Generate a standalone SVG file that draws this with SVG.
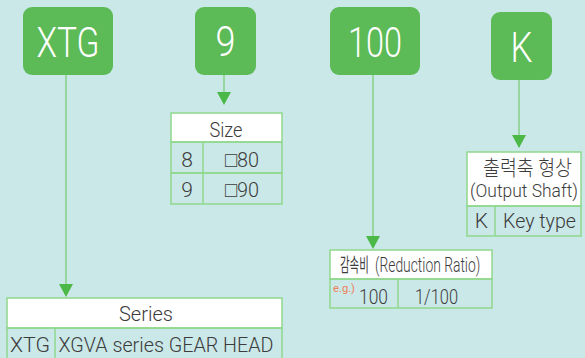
<svg xmlns="http://www.w3.org/2000/svg" width="585" height="358" viewBox="0 0 585 358">
<style>
.bg{fill:#cbe8e8}
.box{fill:#5cba57}
.big{fill:#ffffff;font-family:Roboto,"Liberation Sans",Arial,sans-serif;font-weight:300;font-size:42px;text-anchor:middle}
.conn{stroke:#86d086;stroke-width:1.5;fill:none}
.hd{fill:#ffffff;stroke:#90d88c;stroke-width:1.5}
.cell{fill:none;stroke:#90d88c;stroke-width:1.5}
.t{fill:#3c3c3c;font-family:Roboto,"Liberation Sans","Noto Sans CJK KR",sans-serif;font-weight:300;font-size:21px;text-anchor:middle}
.kr{fill:#3c3c3c;font-family:"Noto Sans CJK KR",sans-serif;font-size:19px}
.eg{fill:#f0805a;font-family:Roboto,"Liberation Sans",sans-serif;font-size:11px}
</style>
<rect class="bg" x="0" y="0" width="585" height="358"/>
<g id="connectors">
<line class="conn" x1="66" y1="75" x2="66" y2="284"/>
<path d="M59,284 L73,284 L66,297 Z" fill="#4cb848"/>
<line class="conn" x1="224" y1="75" x2="224" y2="92"/>
<path d="M217,92 L231,92 L224,105 Z" fill="#4cb848"/>
<line class="conn" x1="373" y1="75" x2="373" y2="236"/>
<path d="M366,236 L380,236 L373,249 Z" fill="#4cb848"/>
<line class="conn" x1="519" y1="80" x2="519" y2="135"/>
<path d="M512,135 L526,135 L519,148 Z" fill="#4cb848"/>
</g>
<g id="node-xtg">
<rect class="box" x="23" y="7" width="90" height="68" rx="9"/>
<text class="big" x="68" y="57" textLength="63" lengthAdjust="spacingAndGlyphs">XTG</text>
</g>
<g id="node-9">
<rect class="box" x="195" y="7" width="61" height="68" rx="9"/>
<text class="big" x="225.5" y="56" textLength="20" lengthAdjust="spacingAndGlyphs">9</text>
</g>
<g id="node-100">
<rect class="box" x="330" y="7" width="90" height="68" rx="9"/>
<text class="big" x="375" y="57" textLength="54" lengthAdjust="spacingAndGlyphs">100</text>
</g>
<g id="node-k">
<rect class="box" x="491" y="12" width="61" height="68" rx="9"/>
<text class="big" x="521.5" y="62" textLength="22" lengthAdjust="spacingAndGlyphs">K</text>
</g>
<g id="table-size">
<rect class="hd" x="171" y="113" width="111" height="29"/>
<rect class="cell" x="171" y="142" width="111" height="31"/>
<rect class="cell" x="171" y="173" width="111" height="31"/>
<line class="cell" x1="203" y1="142" x2="203" y2="204"/>
<text class="t" x="226" y="137" textLength="33" lengthAdjust="spacingAndGlyphs">Size</text>
<text class="t" x="187" y="167">8</text>
<text class="t" x="242" y="167" textLength="34" lengthAdjust="spacingAndGlyphs">□80</text>
<text class="t" x="187" y="197">9</text>
<text class="t" x="242" y="197" textLength="34" lengthAdjust="spacingAndGlyphs">□90</text>
</g>
<g id="table-series">
<rect class="hd" x="7" y="298" width="275" height="30"/>
<rect class="cell" x="7" y="328" width="275" height="34"/>
<line class="cell" x1="55" y1="328" x2="55" y2="362"/>
<text class="t" x="146" y="321" textLength="54" lengthAdjust="spacingAndGlyphs">Series</text>
<text class="t" x="30" y="352" textLength="40" lengthAdjust="spacingAndGlyphs">XTG</text>
<text class="t" x="166" y="352" textLength="215" lengthAdjust="spacingAndGlyphs">XGVA series GEAR HEAD</text>
</g>
<g id="table-ratio">
<rect class="hd" x="330" y="250" width="162" height="29"/>
<rect class="cell" x="330" y="279" width="162" height="29"/>
<line class="cell" x1="398" y1="279" x2="398" y2="308"/>
<text class="kr" transform="translate(340,272) scale(0.55,1)">감속비</text>
<text class="t" transform="translate(375,272) scale(0.66,1)" style="text-anchor:start">(Reduction Ratio)</text>
<text class="eg" x="333" y="292" textLength="22" lengthAdjust="spacingAndGlyphs">e.g.)</text>
<text class="t" x="373.5" y="304" textLength="29" lengthAdjust="spacingAndGlyphs">100</text>
<text class="t" x="436.5" y="304" textLength="43" lengthAdjust="spacingAndGlyphs">1/100</text>
</g>
<g id="table-shaft">
<rect class="hd" x="467" y="152" width="114" height="54"/>
<rect class="cell" x="467" y="206" width="114" height="30"/>
<line class="cell" x1="495" y1="206" x2="495" y2="236"/>
<text class="t" x="527.5" y="175" textLength="89" lengthAdjust="spacingAndGlyphs">출력축 형상</text>
<text class="t" x="524" y="197" style="font-size:18px" textLength="108" lengthAdjust="spacingAndGlyphs">(Output Shaft)</text>
<text class="t" x="481.5" y="228">K</text>
<text class="t" x="539.5" y="228" textLength="73" lengthAdjust="spacingAndGlyphs">Key type</text>
</g>
</svg>
